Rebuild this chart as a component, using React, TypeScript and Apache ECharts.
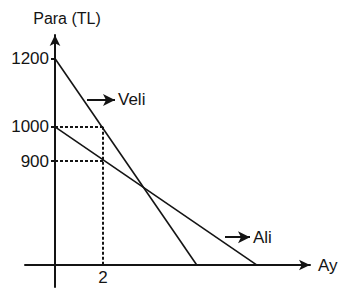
import React, { useEffect, useRef } from "react";
import * as echarts from "echarts";

// Axis ticks / labels
const yTickValues = [900, 1000, 1200];
const xTickValues = [2];
// Axis ranges (schematic: x-axis crosses the money axis at BASE)
const X_MIN = -1.25;
const X_MAX = 10.625;
const Y_MIN = 531;
const Y_MAX = 1269;
const BASE = 596;
// Series (month, money)
const veliData = [
  [0, 1200],
  [5.9, BASE],
];
const aliData = [
  [0, 1000],
  [8.4, BASE],
];
// Guide values
const guideMonth = 2;
const guideVeli = 1000;
const guideAli = 900;
// Annotation arrows [x0, x1, y]
const veliArrow = [1.333, 2.5, 1079];
const aliArrow = [7.083, 8.125, 677];

const FONT = "'Liberation Sans', Arial, Helvetica, sans-serif";
const INK = "#141414";

export default function App() {
  const ref = useRef<HTMLDivElement>(null);
  useEffect(() => {
    if (!ref.current) return;
    const chart = echarts.init(ref.current, null, { renderer: "svg" });
    const dotted = { type: [3, 2] as any, width: 2, color: INK };
    const arrowLabel = (txt: string) => ({
      show: true,
      position: "end",
      formatter: txt,
      fontFamily: FONT,
      fontSize: 17,
      color: INK,
      distance: 3,
    });
    chart.setOption({
      animation: false,
      grid: { left: 25, right: 32, top: 35, bottom: 4, containLabel: false },
      xAxis: {
        type: "value",
        min: X_MIN,
        max: X_MAX,
        offset: -22,
        name: "Ay",
        nameLocation: "end",
        nameGap: 8,
        nameTextStyle: { fontFamily: FONT, fontSize: 17, color: INK },
        axisLine: {
          show: true,
          onZero: false,
          symbol: ["none", "arrow"],
          symbolSize: [8, 11],
          lineStyle: { color: INK, width: 2 },
        },
        axisTick: { show: false },
        axisLabel: {
          customValues: xTickValues,
          formatter: (v: number) => String(v),
          fontFamily: FONT,
          fontSize: 17,
          color: INK,
          margin: 4,
        },
        splitLine: { show: false },
      },
      yAxis: {
        type: "value",
        min: Y_MIN,
        max: Y_MAX,
        offset: -30,
        name: "Para (TL)",
        nameLocation: "end",
        nameGap: 9,
        nameTextStyle: {
          fontFamily: FONT,
          fontSize: 16,
          color: INK,
          padding: [0, 0, 0, 24],
        },
        axisLine: {
          show: true,
          onZero: false,
          symbol: ["none", "arrow"],
          symbolSize: [8, 11],
          lineStyle: { color: INK, width: 2 },
        },
        axisTick: {
          show: true,
          customValues: yTickValues,
          length: 4,
          lineStyle: { color: INK, width: 2 },
        },
        axisLabel: {
          customValues: yTickValues,
          formatter: (v: number) => String(v),
          fontFamily: FONT,
          fontSize: 17,
          color: INK,
          margin: 6,
        },
        splitLine: { show: false },
      },
      series: [
        {
          type: "line",
          name: "Veli",
          data: veliData,
          symbol: "none",
          lineStyle: { color: INK, width: 1.6 },
          markLine: {
            silent: true,
            symbol: ["none", "arrow"],
            symbolSize: [9, 12],
            lineStyle: { color: INK, width: 2, type: "solid" },
            label: arrowLabel("Veli"),
            data: [
              [
                { coord: [veliArrow[0], veliArrow[2]] },
                { coord: [veliArrow[1], veliArrow[2]] },
              ],
            ],
          },
        },
        {
          type: "line",
          name: "Ali",
          data: aliData,
          symbol: "none",
          lineStyle: { color: INK, width: 1.6 },
          markLine: {
            silent: true,
            symbol: ["none", "arrow"],
            symbolSize: [9, 12],
            lineStyle: { color: INK, width: 2, type: "solid" },
            label: arrowLabel("Ali"),
            data: [
              [
                { coord: [aliArrow[0], aliArrow[2]] },
                { coord: [aliArrow[1], aliArrow[2]] },
              ],
            ],
          },
        },
        {
          type: "line",
          name: "guides",
          data: [],
          symbol: "none",
          markLine: {
            silent: true,
            symbol: ["none", "none"],
            lineStyle: dotted,
            label: { show: false },
            data: [
              [{ coord: [0, guideVeli] }, { coord: [guideMonth, guideVeli] }],
              [{ coord: [0, guideAli] }, { coord: [guideMonth, guideAli] }],
              [{ coord: [guideMonth, guideVeli] }, { coord: [guideMonth, BASE] }],
            ],
          },
        },
      ],
    });
    return () => chart.dispose();
  }, []);
  return (
    <div
      ref={ref}
      style={{ position: "fixed", left: 0, top: 0, width: 342, height: 291, background: "#fff" }}
    />
  );
}
